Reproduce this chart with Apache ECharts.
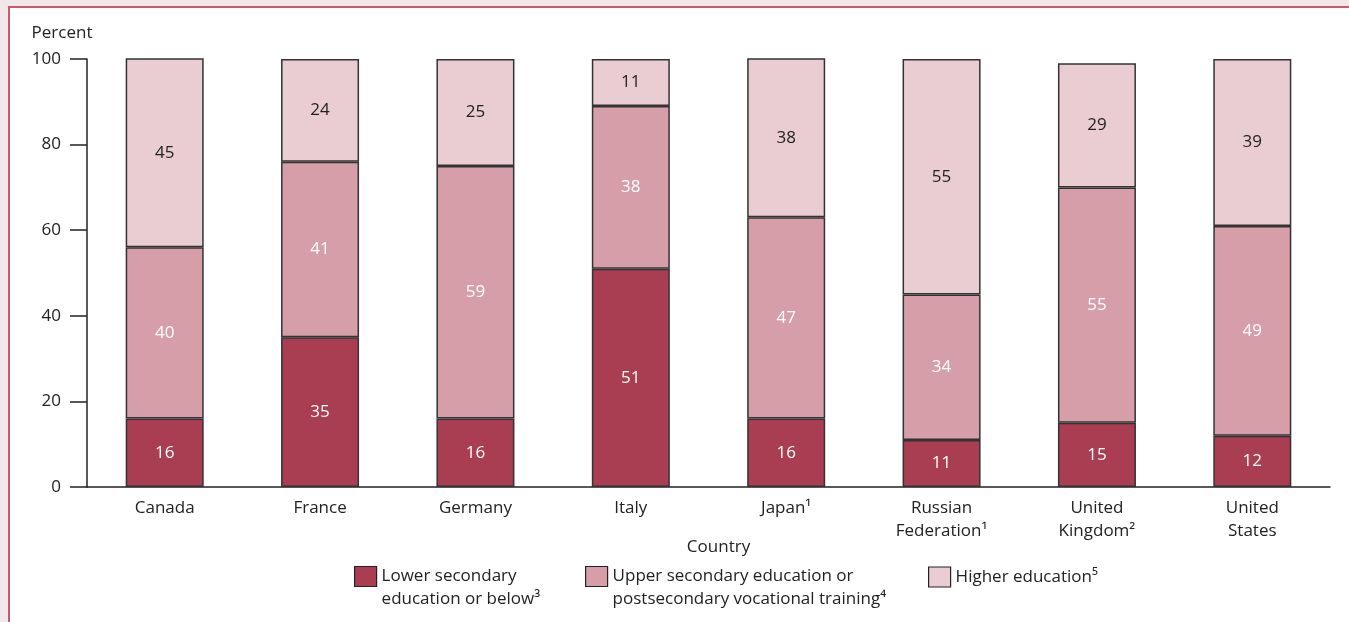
<!DOCTYPE html>
<html>
<head>
<meta charset="utf-8">
<script src="https://cdn.jsdelivr.net/npm/echarts@6/dist/echarts.min.js"></script>
<style>
html,body{margin:0;padding:0;width:1349px;height:622px;overflow:hidden;background:#f3e8e9;}
#frame{position:absolute;left:8px;top:6px;width:1341px;height:616px;background:#fff;border-left:2px solid #c85a6e;border-top:2px solid #c85a6e;box-sizing:border-box;}
#chart{position:absolute;left:0;top:0;width:1349px;height:622px;}
</style>
</head>
<body>
<div id="frame"></div>
<div id="chart"></div>
<script>
const categories = ['Canada','France','Germany','Italy','Japan¹','Russian\nFederation¹','United\nKingdom²','United\nStates'];
const seriesNames = ['Lower secondary\neducation or below³','Upper secondary education or\npostsecondary vocational training⁴','Higher education⁵'];
const lowerSecondary = [16,35,16,51,16,11,15,12];
const upperSecondary = [40,41,59,38,47,34,55,49];
const higherEducation = [45,24,25,11,38,55,29,39];
const yTicks = [0,20,40,60,80,100];

const FONT = '"Open Sans", "Noto Sans", sans-serif';
const FS = 17;
const colors = ['#a93d52','#d59ea8','#eacdd2'];
const labelColors = ['#ffffff','#ffffff','#222222'];
const values = [lowerSecondary, upperSecondary, higherEducation];

const chart = echarts.init(document.getElementById('chart'), null, {renderer:'canvas'});

const series = seriesNames.map((n,i)=>({
  name: n,
  type: 'bar',
  stack: 'total',
  barWidth: 78,
  data: values[i],
  itemStyle: {color: colors[i], borderColor:'#333', borderWidth:1.5},
  label: {show:true, position:'inside', color: labelColors[i], fontSize:FS, fontFamily:FONT},
  emphasis:{disabled:true}
}));

const legendLefts = [354, 585, 928];
const legendTops = [542, 542, 565.5];
const legends = seriesNames.map((n,i)=>({
  data:[n],
  left: legendLefts[i],
  top: legendTops[i],
  orient:'horizontal',
  icon:'rect',
  itemWidth:22,
  itemHeight:20,
  itemGap:8,
  selectedMode:false,
  padding:0,
  itemStyle:{borderColor:'#222',borderWidth:1.2},
  formatter: function(name){ return name.indexOf('\n')<0 ? name : '\n'+name; },
  textStyle:{fontSize:FS, fontFamily:FONT, color:'#222', lineHeight:23}
}));

chart.setOption({
  animation:false,
  backgroundColor:'transparent',
  textStyle:{fontFamily:FONT},
  grid:{left:87, right:19, top:59, bottom:135, containLabel:false},
  legend: legends,
  xAxis:{
    type:'category',
    data:categories,
    name:'Country',
    nameLocation:'middle',
    nameGap:60,
    nameMoveOverlap:false,
    nameTextStyle:{fontSize:FS, color:'#222', fontFamily:FONT, padding:[0,0,0,20], verticalAlign:'middle'},
    axisLine:{lineStyle:{color:'#222', width:1.5}},
    axisTick:{show:false},
    axisLabel:{fontSize:FS, color:'#222', fontFamily:FONT, lineHeight:23, margin:10, interval:0}
  },
  yAxis:{
    type:'value',
    min:yTicks[0],
    max:yTicks[yTicks.length-1],
    interval:yTicks[1]-yTicks[0],
    name:'Percent',
    nameLocation:'end',
    nameGap:17,
    nameTextStyle:{fontSize:FS, color:'#222', fontFamily:FONT, align:'center', padding:[0,50,0,0]},
    axisLine:{show:true, lineStyle:{color:'#222', width:1.5}},
    axisTick:{show:true, length:17, lineStyle:{color:'#222', width:1.5}},
    splitLine:{show:false},
    axisLabel:{fontSize:FS, color:'#222', fontFamily:FONT, margin:26}
  },
  series: series
});
</script>
</body>
</html>
